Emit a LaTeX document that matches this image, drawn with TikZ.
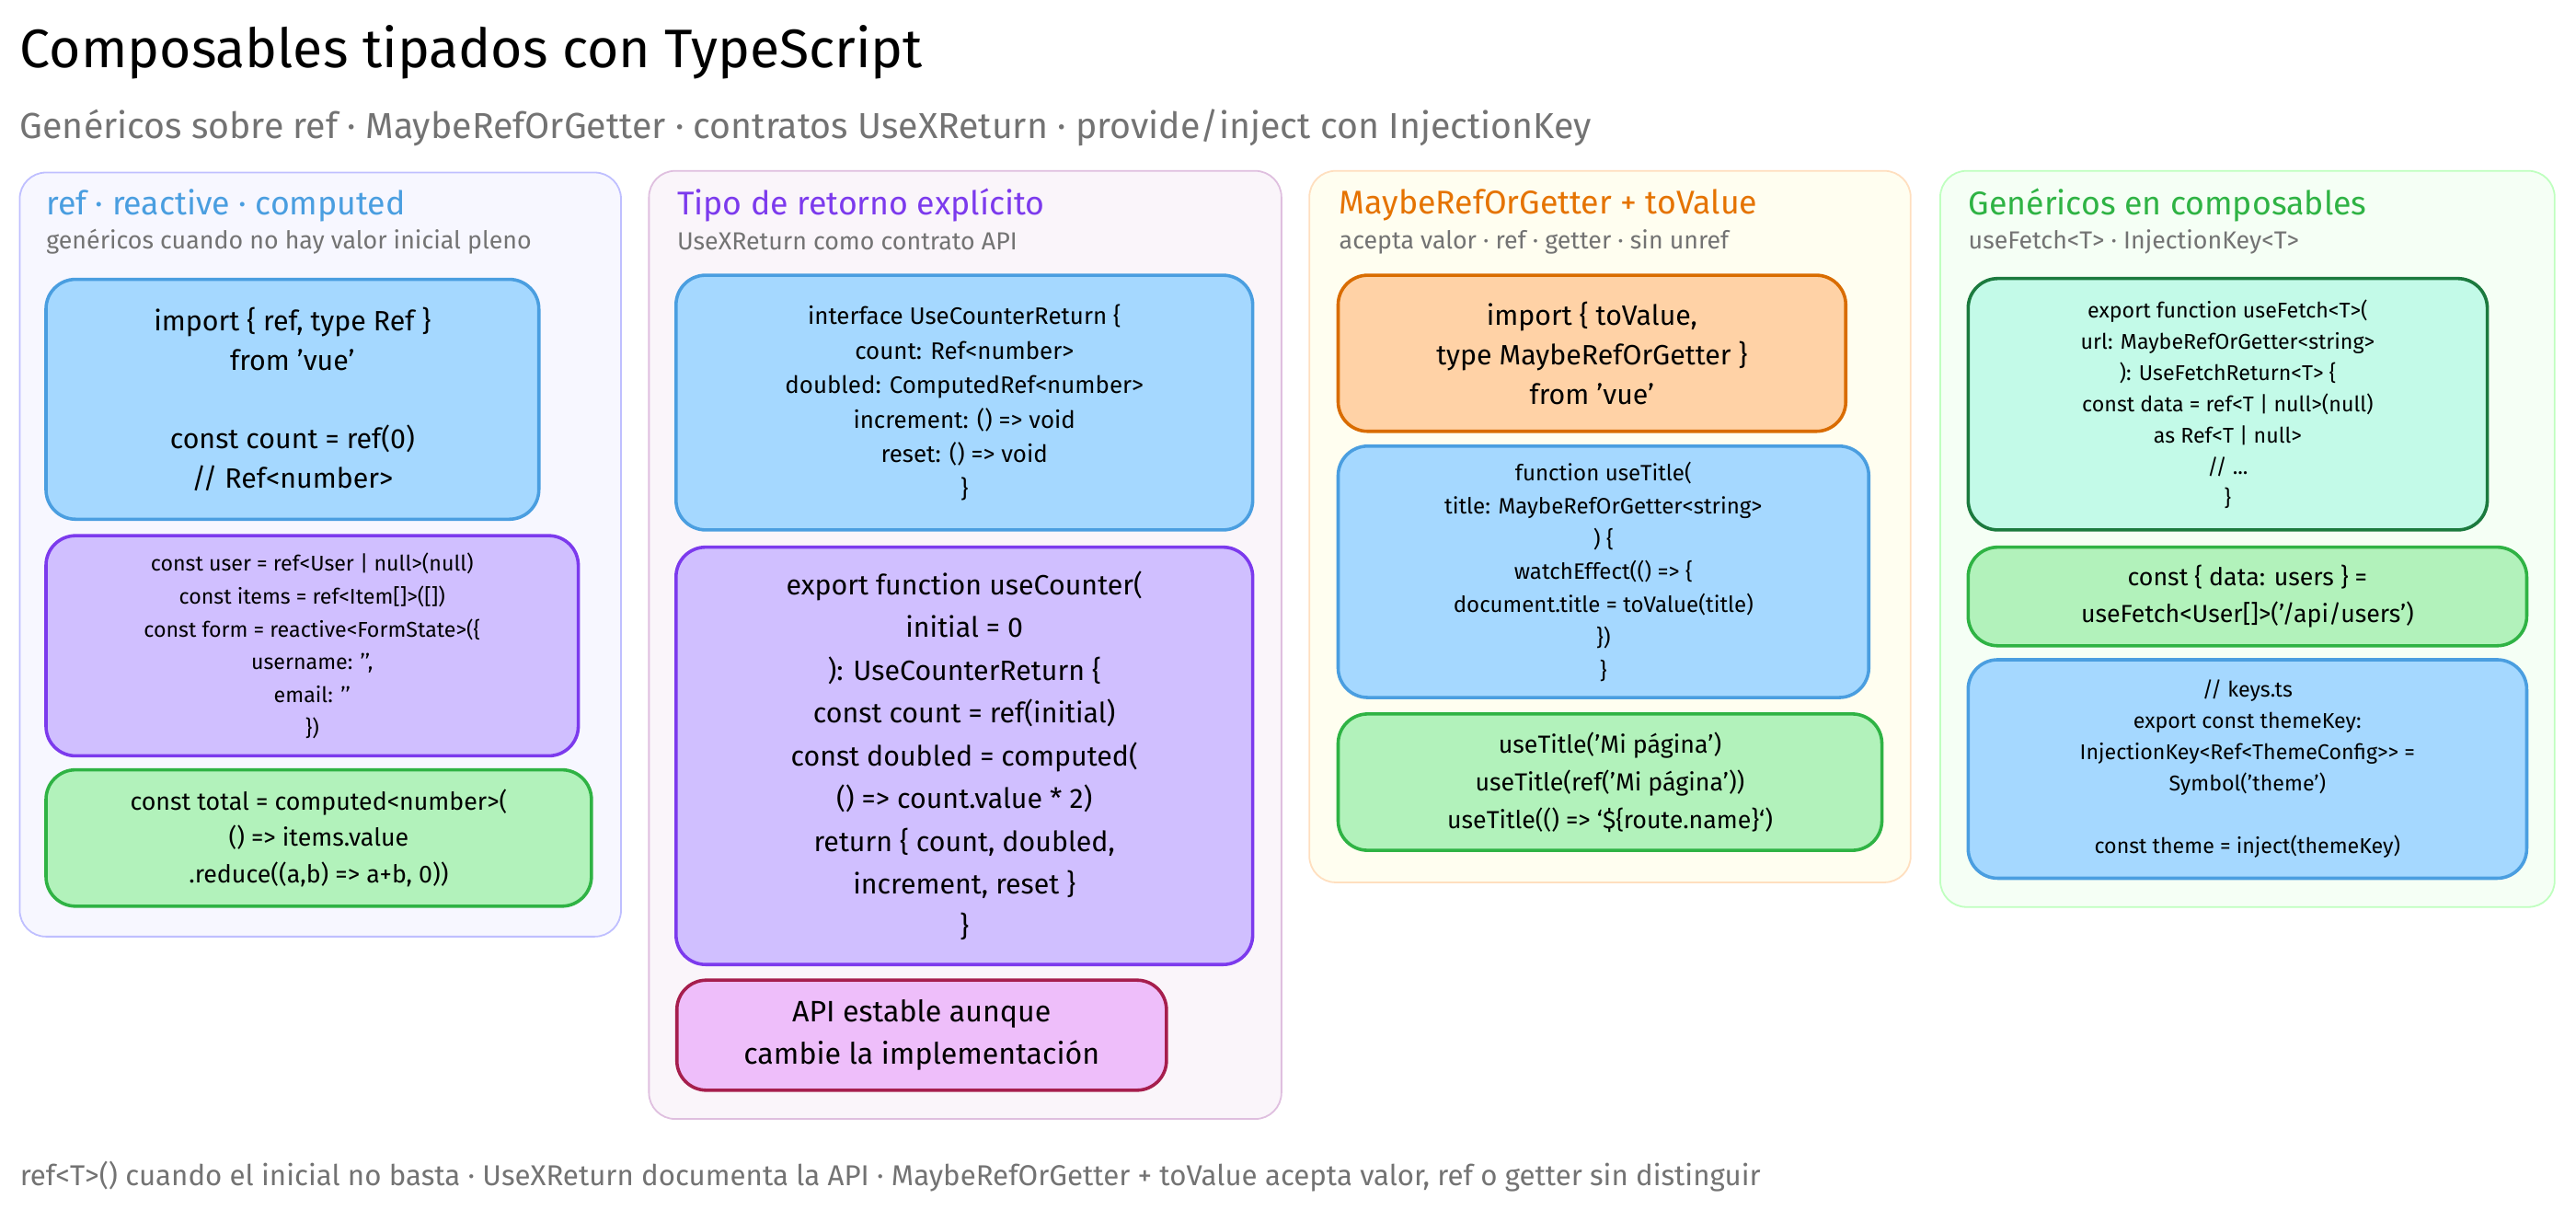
\documentclass[tikz,border=0pt]{standalone}
\usepackage{fontspec}
\setmainfont{Fira Sans}
\begin{document}
\begin{tikzpicture}[x=1pt,y=-1pt,
  panel/.style={draw,rounded corners=16pt,line width=1pt},
  cbox/.style={draw,rounded corners=18pt,line width=2pt,align=center,inner sep=4pt},
  ptitle/.style={anchor=west,inner sep=0pt,font=\fontsize{20}{24}\selectfont},
  psub/.style={anchor=west,inner sep=0pt,text=gray!90!black,font=\fontsize{15}{18}\selectfont}]
\definecolor{bfill}{HTML}{A5D8FF}\definecolor{bdraw}{HTML}{4A9EE0}
\definecolor{pfill}{HTML}{D0BFFF}\definecolor{pdraw}{HTML}{7C3AED}
\definecolor{gfill}{HTML}{B2F2BB}\definecolor{gdraw}{HTML}{2FB344}
\definecolor{tfill}{HTML}{C3FAE8}\definecolor{tdraw}{HTML}{1B7A3E}
\definecolor{kfill}{HTML}{EEBEFA}\definecolor{kdraw}{HTML}{A61E4D}
\tikzset{bluebox/.style={cbox,fill=bfill,draw=bdraw},purplebox/.style={cbox,fill=pfill,draw=pdraw},greenbox/.style={cbox,fill=gfill,draw=gdraw}}
\useasboundingbox[fill=white] (0,0) rectangle (1568,736);
\node[anchor=west,inner sep=0pt,font=\fontsize{33}{38}\selectfont] (title) at (12,32) {Composables tipados con TypeScript};
\node[anchor=west,inner sep=0pt,text=gray!90!black,font=\fontsize{22}{26}\selectfont] (sub) at (12,78) {Genéricos sobre ref · MaybeRefOrGetter · contratos UseXReturn · provide/inject con InjectionKey};
% panels
\draw[panel,fill=blue!3,draw=blue!25] (12,105) rectangle (378,570);
\draw[panel,fill=violet!4,draw=violet!25] (395,104) rectangle (780,681);
\draw[panel,fill=yellow!6,draw=orange!25] (797,104) rectangle (1163,537);
\draw[panel,fill=green!4,draw=green!25] (1181,104) rectangle (1555,552);
\node[ptitle,text=bdraw] (t1) at (28,125) {ref · reactive · computed};
\node[psub] (s1) at (28,147) {genéricos cuando no hay valor inicial pleno};
\node[ptitle,text=pdraw] (t2) at (412,125) {Tipo de retorno explícito};
\node[psub] (s2) at (412,147) {UseXReturn como contrato API};
\node[ptitle,text=orange!90!black] (t3) at (815,125) {MaybeRefOrGetter + toValue};
\node[psub] (s3) at (815,147) {acepta valor · ref · getter · sin unref};
\node[ptitle,text=gdraw] (t4) at (1198,125) {Genéricos en composables};
\node[psub] (s4) at (1198,147) {useFetch<T> · InjectionKey<T>};
% panel 1
\node[bluebox,minimum width=300,minimum height=146,font=\fontsize{17}{24}\selectfont] (b11) at (178,243)
 {import \{ ref, type Ref \}\\from 'vue'\\[24pt]const count = ref(0)\\// Ref<number>};
\node[purplebox,minimum width=324,minimum height=134,font=\fontsize{13}{20}\selectfont] (b12) at (190,393)
 {const user = ref<User | null>(null)\\const items = ref<Item[]>([])\\const form = reactive<FormState>(\{\\username: '{}',\\email: '{}'\\\})};
\node[greenbox,minimum width=332,minimum height=83,font=\fontsize{15}{22}\selectfont] (b13) at (194,510)
 {const total = computed<number>(\\() => items.value\\.reduce((a,b) => a+b, 0))};
% panel 2
\node[bluebox,minimum width=351,minimum height=155,font=\fontsize{14.5}{21}\selectfont] (b21) at (587,245)
 {interface UseCounterReturn \{\\count: Ref<number>\\doubled: ComputedRef<number>\\increment: () => void\\reset: () => void\\\}};
\node[purplebox,minimum width=351,minimum height=254,font=\fontsize{17}{26}\selectfont] (b22) at (587,460)
 {export function useCounter(\\initial = 0\\): UseCounterReturn \{\\const count = ref(initial)\\const doubled = computed(\\() => count.value * 2)\\return \{ count, doubled,\\increment, reset \}\\\}};
\node[cbox,fill=kfill,draw=kdraw,minimum width=298,minimum height=67,font=\fontsize{18}{26}\selectfont] (b23) at (561,630)
 {API estable aunque\\cambie la implementación};
% panel 3
\node[cbox,fill=orange!35,draw=orange!85!black,minimum width=309,minimum height=95,font=\fontsize{17}{24}\selectfont] (b31) at (969,215)
 {import \{ toValue,\\type MaybeRefOrGetter \}\\from 'vue'};
\node[bluebox,minimum width=323,minimum height=153,font=\fontsize{13.5}{20}\selectfont] (b32) at (976,348)
 {function useTitle(\\title: MaybeRefOrGetter<string>\\) \{\\watchEffect(() => \{\\document.title = toValue(title)\\\})\\\}};
\node[greenbox,minimum width=331,minimum height=83,font=\fontsize{15}{23}\selectfont] (b33) at (980,476)
 {useTitle('Mi página')\\useTitle(ref('Mi página'))\\useTitle(() => \symbol{96}\$\{route.name\}\symbol{96})};
% panel 4
\node[cbox,fill=tfill,draw=tdraw,minimum width=316,minimum height=153,font=\fontsize{13}{19}\selectfont] (b41) at (1356,246)
 {export function useFetch<T>(\\url: MaybeRefOrGetter<string>\\): UseFetchReturn<T> \{\\const data = ref<T | null>(null)\\as Ref<T | null>\\// ...\\\}};
\node[greenbox,minimum width=340,minimum height=60,font=\fontsize{15}{22}\selectfont] (b42) at (1368,363)
 {const \{ data: users \} =\\useFetch<User[]>('/api/users')};
\node[bluebox,minimum width=340,minimum height=133,font=\fontsize{13}{19}\selectfont] (b43) at (1368,468)
 {// keys.ts\\export const themeKey:\\InjectionKey<Ref<ThemeConfig>{}> =\\Symbol('theme')\\[19pt]const theme = inject(themeKey)};
\node[anchor=west,inner sep=0pt,text=gray!90!black,font=\fontsize{17.5}{20}\selectfont] (foot) at (12,716)
 {ref<T>() cuando el inicial no basta · UseXReturn documenta la API · MaybeRefOrGetter + toValue acepta valor, ref o getter sin distinguir};
\end{tikzpicture}
\end{document}
